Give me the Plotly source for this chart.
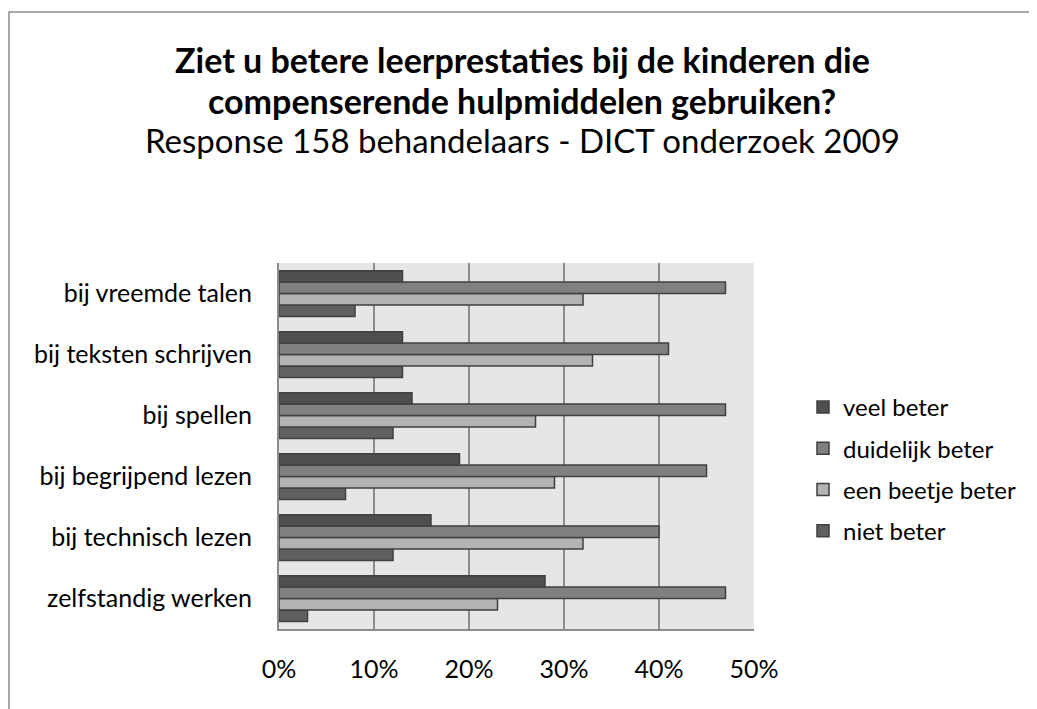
import plotly.graph_objects as go

categories = ["zelfstandig werken", "bij technisch lezen", "bij begrijpend lezen",
              "bij spellen", "bij teksten schrijven", "bij vreemde talen"]
veel_beter = [28, 16, 19, 14, 13, 13]
duidelijk_beter = [47, 40, 45, 47, 41, 47]
een_beetje_beter = [23, 32, 29, 27, 33, 32]
niet_beter = [3, 12, 7, 12, 13, 8]

series = [
    ("niet beter", niet_beter, "#606060", 4),
    ("een beetje beter", een_beetje_beter, "#b3b3b3", 3),
    ("duidelijk beter", duidelijk_beter, "#808080", 2),
    ("veel beter", veel_beter, "#4f4f4f", 1),
]

title_lines = ["<b>Ziet u betere leerprestaties bij de kinderen die</b>",
               "<b>compenserende hulpmiddelen gebruiken?</b>",
               "Response 158 behandelaars - DICT onderzoek 2009"]

x_ticks = [0, 10, 20, 30, 40, 50]
x_ticklabels = ["0%", "10%", "20%", "30%", "40%", "50%"]

FONT = "Lato"
W, H = 1029, 701
L, R, T, B = 271, 746, 255, 621
PW, PH = R - L, B - T

fig = go.Figure()
for name, vals, col, rank in series:
    fig.add_trace(go.Bar(
        y=categories, x=vals, name=name, orientation="h",
        marker=dict(color=col, line=dict(color="#404040", width=1.5)),
        legendgroup=name, legendrank=rank,
    ))

title_y = [52, 92, 132]
title_size = [34, 34, 33]
annotations = []
for txt, yy, sz in zip(title_lines, title_y, title_size):
    annotations.append(dict(
        text=txt, xref="paper", yref="paper",
        x=(514 - L) / PW, y=(B - yy) / PH, xanchor="center", yanchor="middle",
        showarrow=False, font=dict(family=FONT, size=sz, color="black"),
    ))

fig.update_layout(
    width=W, height=H,
    barmode="group", bargap=0.25, bargroupgap=0,
    paper_bgcolor="white", plot_bgcolor="#e6e6e6",
    margin=dict(l=L, r=W - R, t=T, b=H - B),
    font=dict(family=FONT, color="black", size=24),
    annotations=annotations,
    legend=dict(
        x=(795 - L) / PW, xanchor="left", y=(B - 461) / PH, yanchor="middle",
        traceorder="grouped", tracegroupgap=7,
        font=dict(family=FONT, size=24, color="black"),
        itemwidth=30,
    ),
    xaxis=dict(
        range=[0, 50], tickvals=x_ticks, ticktext=x_ticklabels,
        showgrid=True, gridcolor="#8c8c8c", gridwidth=2,
        showline=True, linecolor="#8c8c8c", linewidth=2,
        zeroline=False, ticks="", ticklabelstandoff=17,
        tickfont=dict(size=25),
    ),
    yaxis=dict(
        showgrid=False, showline=True, linecolor="#8c8c8c", linewidth=2,
        ticks="", ticklabelstandoff=20, zeroline=False,
        tickfont=dict(size=25),
    ),
    shapes=[dict(type="rect", xref="paper", yref="paper",
                 x0=(1 - L) / PW, x1=(W + 20 - L) / PW,
                 y0=(B - (H + 20)) / PH, y1=(B - 4) / PH,
                 line=dict(color="#8c8c8c", width=1.5), fillcolor="rgba(0,0,0,0)", layer="below")],
)

fig.write_html("out.html")
